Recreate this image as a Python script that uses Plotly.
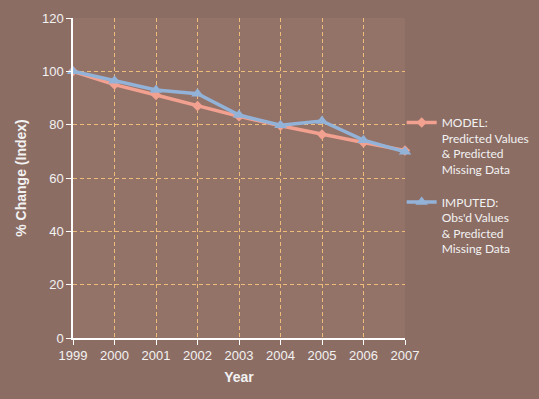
import plotly.graph_objects as go

years = [1999, 2000, 2001, 2002, 2003, 2004, 2005, 2006, 2007]
model = [100, 95.0, 91.1, 87.0, 83.1, 79.6, 76.3, 73.3, 70.3]
imputed = [100, 96.5, 93.0, 91.6, 83.6, 79.8, 81.4, 74.2, 69.8]
model_name = "MODEL:<br>Predicted Values<br>& Predicted<br>Missing Data"
imputed_name = "IMPUTED:<br>Obs'd Values<br>& Predicted<br>Missing Data"
y_ticks = [0, 20, 40, 60, 80, 100, 120]

fig = go.Figure()
fig.add_trace(go.Scatter(
    x=years, y=model, name=model_name, mode="lines+markers", legendgroup="m",
    line=dict(color="#f2a08f", width=3.5),
    marker=dict(symbol="diamond", size=8, color="#f2a08f"),
    cliponaxis=False,
))
fig.add_trace(go.Scatter(
    x=years, y=imputed, name=imputed_name, mode="lines+markers", legendgroup="i",
    line=dict(color="#93b2d8", width=3.5),
    marker=dict(symbol="triangle-up", size=11, color="#93b2d8"),
    cliponaxis=False,
))

grid = "#eebb7a"
fig.update_layout(
    width=531, height=391,
    margin=dict(l=65, r=134, t=10, b=61, autoexpand=False),
    paper_bgcolor="#8c6d64",
    plot_bgcolor="#937268",
    font=dict(family="Arial", size=13, color="#f2f2f2"),
    showlegend=True,
    legend=dict(
        x=0.99, y=0.718, xanchor="left", yanchor="top", valign="top",
        font=dict(family="Lato", size=12, color="#f2f2f2"),
        bgcolor="rgba(0,0,0,0)", itemwidth=30, tracegroupgap=14,
    ),
    xaxis=dict(
        range=[1999, 2007], tickmode="array", tickvals=years,
        ticktext=[str(y) for y in years],
        showline=True, linecolor="white", linewidth=1.5,
        ticks="outside", tickcolor="white", ticklen=5,
        showgrid=True, gridcolor=grid, griddash="4px,3px", gridwidth=1,
        zeroline=False,
        title=dict(text="<b>Year</b>", font=dict(size=14, color="#f2f2f2"), standoff=10),
    ),
    yaxis=dict(
        range=[0, 120], tickmode="array", tickvals=y_ticks,
        showline=True, linecolor="white", linewidth=1.5,
        ticks="outside", tickcolor="white", ticklen=5,
        showgrid=True, gridcolor=grid, griddash="4px,3px", gridwidth=1,
        zeroline=False,
        title=dict(text="<b>% Change (Index)</b>", font=dict(size=14, color="#f2f2f2"), standoff=12),
    ),
)
fig.write_html("out.html", post_script="document.body.style.background='#8c6d64';")
